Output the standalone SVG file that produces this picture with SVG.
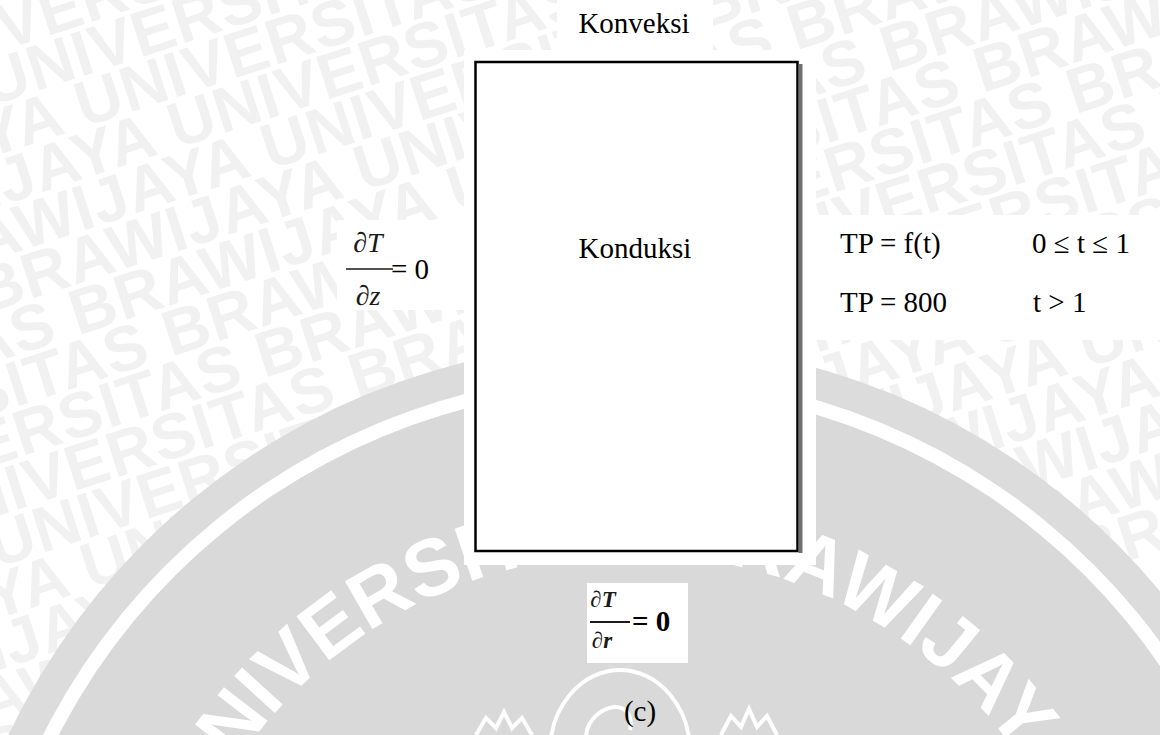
<svg xmlns="http://www.w3.org/2000/svg" width="1160" height="735" viewBox="0 0 1160 735">
<style>
.wm{font-family:"Liberation Sans",Arial,sans-serif;font-weight:bold;font-size:64px;letter-spacing:1px;fill:#f1f1f1}
.seal{font-family:"Liberation Sans",Arial,sans-serif;font-weight:bold;font-size:80px;fill:#ffffff}
.t{font-family:"Liberation Serif","Times New Roman",serif;font-size:29px;fill:#000}
.it{font-family:"Liberation Serif","Times New Roman",serif;font-style:italic;fill:#1a1a1a}
.mk{fill:none;stroke:#ffffff;stroke-width:4}
</style>
<defs>
<path id="sealArc" d="M 154,1030 A 476 476 0 0 1 1106,1030"/>
</defs>
<rect width="1160" height="735" fill="#ffffff"/>
<g id="watermark" transform="rotate(-18)">
<text class="wm" x="-1059" y="0">UNIVERSITAS BRAWIJAYA UNIVERSITAS BRAWIJAYA UNIVERSITAS BRAWIJAYA</text>
<text class="wm" x="-977" y="49">UNIVERSITAS BRAWIJAYA UNIVERSITAS BRAWIJAYA UNIVERSITAS BRAWIJAYA</text>
<text class="wm" x="-895" y="98">UNIVERSITAS BRAWIJAYA UNIVERSITAS BRAWIJAYA UNIVERSITAS BRAWIJAYA</text>
<text class="wm" x="-813" y="147">UNIVERSITAS BRAWIJAYA UNIVERSITAS BRAWIJAYA UNIVERSITAS BRAWIJAYA</text>
<text class="wm" x="-731" y="196">UNIVERSITAS BRAWIJAYA UNIVERSITAS BRAWIJAYA UNIVERSITAS BRAWIJAYA</text>
<text class="wm" x="-649" y="245">UNIVERSITAS BRAWIJAYA UNIVERSITAS BRAWIJAYA UNIVERSITAS BRAWIJAYA</text>
<text class="wm" x="-567" y="294">UNIVERSITAS BRAWIJAYA UNIVERSITAS BRAWIJAYA UNIVERSITAS BRAWIJAYA</text>
<text class="wm" x="-485" y="343">UNIVERSITAS BRAWIJAYA UNIVERSITAS BRAWIJAYA UNIVERSITAS BRAWIJAYA</text>
<text class="wm" x="-403" y="392">UNIVERSITAS BRAWIJAYA UNIVERSITAS BRAWIJAYA UNIVERSITAS BRAWIJAYA</text>
<text class="wm" x="-321" y="441">UNIVERSITAS BRAWIJAYA UNIVERSITAS BRAWIJAYA UNIVERSITAS BRAWIJAYA</text>
<text class="wm" x="-239" y="490">UNIVERSITAS BRAWIJAYA UNIVERSITAS BRAWIJAYA UNIVERSITAS BRAWIJAYA</text>
<text class="wm" x="-1032" y="539">UNIVERSITAS BRAWIJAYA UNIVERSITAS BRAWIJAYA UNIVERSITAS BRAWIJAYA</text>
<text class="wm" x="-950" y="588">UNIVERSITAS BRAWIJAYA UNIVERSITAS BRAWIJAYA UNIVERSITAS BRAWIJAYA</text>
<text class="wm" x="-868" y="637">UNIVERSITAS BRAWIJAYA UNIVERSITAS BRAWIJAYA UNIVERSITAS BRAWIJAYA</text>
<text class="wm" x="-786" y="686">UNIVERSITAS BRAWIJAYA UNIVERSITAS BRAWIJAYA UNIVERSITAS BRAWIJAYA</text>
<text class="wm" x="-704" y="735">UNIVERSITAS BRAWIJAYA UNIVERSITAS BRAWIJAYA UNIVERSITAS BRAWIJAYA</text>
<text class="wm" x="-622" y="784">UNIVERSITAS BRAWIJAYA UNIVERSITAS BRAWIJAYA UNIVERSITAS BRAWIJAYA</text>
<text class="wm" x="-540" y="833">UNIVERSITAS BRAWIJAYA UNIVERSITAS BRAWIJAYA UNIVERSITAS BRAWIJAYA</text>
<text class="wm" x="-458" y="882">UNIVERSITAS BRAWIJAYA UNIVERSITAS BRAWIJAYA UNIVERSITAS BRAWIJAYA</text>
<text class="wm" x="-376" y="931">UNIVERSITAS BRAWIJAYA UNIVERSITAS BRAWIJAYA UNIVERSITAS BRAWIJAYA</text>
<text class="wm" x="-294" y="980">UNIVERSITAS BRAWIJAYA UNIVERSITAS BRAWIJAYA UNIVERSITAS BRAWIJAYA</text>
<text class="wm" x="-1087" y="1029">UNIVERSITAS BRAWIJAYA UNIVERSITAS BRAWIJAYA UNIVERSITAS BRAWIJAYA</text>
<text class="wm" x="-1005" y="1078">UNIVERSITAS BRAWIJAYA UNIVERSITAS BRAWIJAYA UNIVERSITAS BRAWIJAYA</text>
<text class="wm" x="-923" y="1127">UNIVERSITAS BRAWIJAYA UNIVERSITAS BRAWIJAYA UNIVERSITAS BRAWIJAYA</text>
<text class="wm" x="-841" y="1176">UNIVERSITAS BRAWIJAYA UNIVERSITAS BRAWIJAYA UNIVERSITAS BRAWIJAYA</text>
</g>
<g id="seal">
<circle cx="630" cy="1030" r="688" fill="#dcdcdc"/>
<circle cx="630" cy="1030" r="657" fill="#ffffff"/>
<circle cx="630" cy="1030" r="643" fill="#d9d9d9"/>
<text class="seal"><textPath href="#sealArc" startOffset="226">UNIVERSITAS</textPath></text>
<text class="seal"><textPath href="#sealArc" startOffset="786">BRAWIJAYA</textPath></text>
<ellipse class="mk" cx="620" cy="752" rx="70" ry="82"/>
<path class="mk" d="M 586,735 C 588,720 600,709 614,707 C 626,706 633,716 630,730"/>
<path class="mk" d="M 476,735 L 486,718 L 496,728 L 504,712 L 512,728 L 522,718 L 532,735"/>
<path class="mk" d="M 721,735 L 731,716 L 741,727 L 749,709 L 757,727 L 767,716 L 777,735"/>
</g>
<g id="backs" fill="#ffffff">
<rect x="557" y="0" width="156" height="52"/>
<rect x="464" y="50" width="352" height="515"/>
<rect x="337" y="220" width="128" height="90"/>
<rect x="816" y="215" width="344" height="125"/>
<rect x="587" y="583" width="101" height="80"/>
</g>
<g id="connectors"></g>
<g id="node-konveksi">
<text class="t" x="634" y="33" text-anchor="middle">Konveksi</text>
</g>
<g id="node-konduksi">
<rect x="475.5" y="62" width="322" height="489" fill="#ffffff" stroke="#000" stroke-width="2.5"/>
<line x1="800.5" y1="64" x2="800.5" y2="553" stroke="#707070" stroke-width="4"/>
<text class="t" x="635" y="258" text-anchor="middle">Konduksi</text>
</g>
<g id="node-bc-left">
<text class="it" x="368" y="252" font-size="28" text-anchor="middle">∂T</text>
<line x1="346" y1="269" x2="393" y2="269" stroke="#1a1a1a" stroke-width="1.6"/>
<text class="t" x="391" y="279" font-size="28">= 0</text>
<text class="it" x="368" y="305" font-size="28" text-anchor="middle">∂z</text>
</g>
<g id="node-bc-right">
<text class="t" x="840" y="253">TP = f(t)</text>
<text class="t" x="1032" y="253">0 ≤ t ≤ 1</text>
<text class="t" x="840" y="312">TP = 800</text>
<text class="t" x="1033" y="312">t &gt; 1</text>
</g>
<g id="node-bc-bottom">
<text class="it" x="603" y="607" font-size="23" font-weight="bold" text-anchor="middle">∂T</text>
<line x1="590" y1="622" x2="630" y2="622" stroke="#1a1a1a" stroke-width="1.8"/>
<text class="t" x="632" y="631" font-size="24" font-weight="bold">= 0</text>
<text class="it" x="602" y="648" font-size="23" font-weight="bold" text-anchor="middle">∂r</text>
</g>
<g id="caption">
<text class="t" x="640" y="721" text-anchor="middle">(c)</text>
</g>
</svg>
